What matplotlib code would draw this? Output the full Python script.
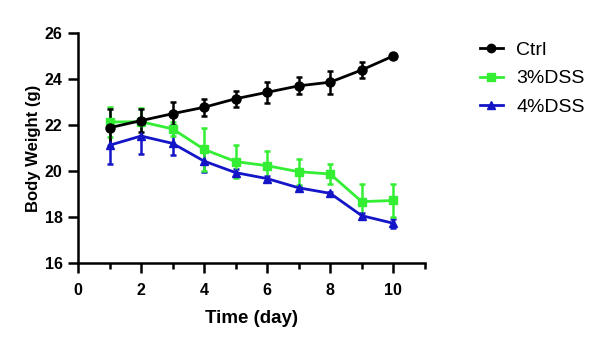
import matplotlib
matplotlib.use("Agg")
import matplotlib.pyplot as plt
from matplotlib.lines import Line2D

plt.rcParams['font.family'] = ['Liberation Sans', 'DejaVu Sans']

days = [1, 2, 3, 4, 5, 6, 7, 8, 9, 10]
ctrl = [21.88, 22.19, 22.49, 22.77, 23.14, 23.42, 23.70, 23.86, 24.39, 25.0]
ctrl_err = [0.8, 0.5, 0.5, 0.36, 0.35, 0.45, 0.37, 0.5, 0.36, 0.0]
dss3 = [22.13, 22.14, 21.83, 20.94, 20.41, 20.23, 19.97, 19.87, 18.67, 18.72]
dss3_err = [0.67, 0.6, 0.3, 0.94, 0.7, 0.65, 0.56, 0.43, 0.77, 0.72]
dss4 = [21.12, 21.52, 21.2, 20.43, 19.93, 19.67, 19.27, 19.03, 18.06, 17.73]
dss4_err = [0.8, 0.8, 0.5, 0.47, 0.15, 0.1, 0.08, 0.08, 0.12, 0.2]

c_ctrl, c_3, c_4 = 'black', '#33ee33', '#1515c8'

fig = plt.figure(figsize=(6.0, 3.43), dpi=100)
ax = fig.add_axes([0.13, 0.233, 0.578, 0.671])

kw = dict(lw=2, elinewidth=1.8, capsize=2.5, capthick=1.8)
ax.errorbar(days, dss4, yerr=dss4_err, color=c_4, marker='^', ms=6, **kw)
ax.errorbar(days, dss3, yerr=dss3_err, color=c_3, marker='s', ms=6, **kw)
ax.errorbar(days, ctrl, yerr=ctrl_err, color=c_ctrl, marker='o', ms=6.5, **kw)

ax.set_xlim(0, 11)
ax.set_ylim(16, 26)
ax.set_xticks([0, 2, 4, 6, 8, 10])
ax.set_xticks(range(1, 12, 2), minor=True)
ax.set_yticks([16, 18, 20, 22, 24, 26])
for s in ['top', 'right']:
    ax.spines[s].set_visible(False)
for s in ['left', 'bottom']:
    ax.spines[s].set_linewidth(1.8)
ax.tick_params(which='major', width=1.8, length=7, labelsize=11.5, pad=4)
ax.tick_params(axis='x', which='major', pad=7)
ax.tick_params(which='minor', width=1.8, length=4)
for lab in ax.get_xticklabels() + ax.get_yticklabels():
    lab.set_fontweight('bold')
ax.set_xlabel('Time (day)', fontsize=13.5, fontweight='bold', labelpad=9)
ax.set_ylabel('Body Weight (g)', fontsize=12, fontweight='bold', labelpad=3)

handles = [Line2D([], [], color=c_ctrl, marker='o', lw=2, ms=6),
           Line2D([], [], color=c_3, marker='s', lw=2, ms=6),
           Line2D([], [], color=c_4, marker='^', lw=2, ms=6)]
fig.legend(handles, ['Ctrl', '3%DSS', '4%DSS'], loc='upper left',
           bbox_to_anchor=(0.77, 0.93), frameon=False, fontsize=14,
           handlelength=1.2, handletextpad=0.7, labelspacing=0.55)

fig.savefig('out.png', dpi=100)
